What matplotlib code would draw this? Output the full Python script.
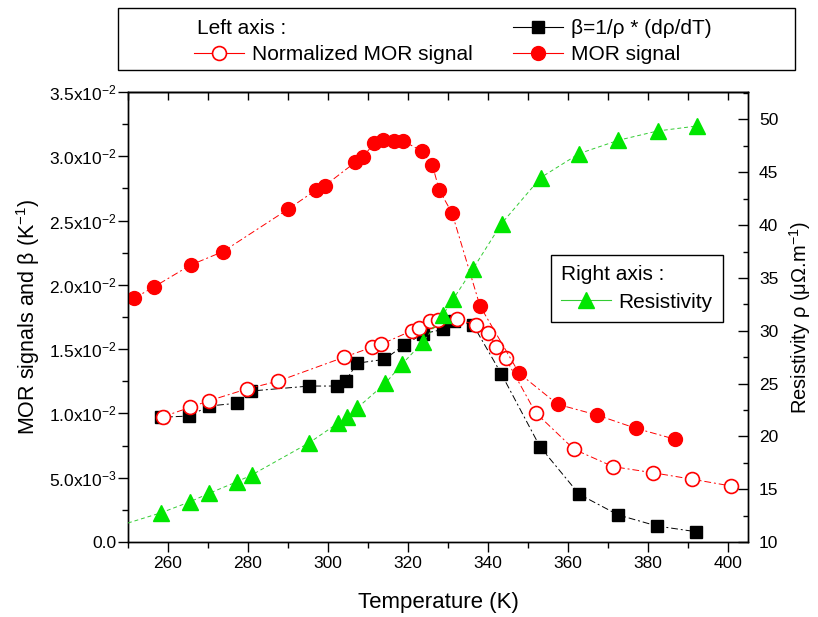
import matplotlib
matplotlib.use("Agg")
import matplotlib.pyplot as plt
from matplotlib.lines import Line2D
from matplotlib.patches import Rectangle
from matplotlib.ticker import MultipleLocator, FixedLocator, FixedFormatter

plt.rcParams.update({
    "font.family": ["Liberation Sans", "DejaVu Sans"],
    "mathtext.fontset": "custom",
    "mathtext.rm": "Liberation Sans",
    "mathtext.it": "Liberation Sans:italic",
    "mathtext.bf": "Liberation Sans:bold",
    "axes.linewidth": 1.0,
})

# --- dane ---
# MOR signal (pełne czerwone kółka), lewa oś
T_mor = [251.5, 256.6, 265.7, 273.7, 290.1, 297.0, 299.2, 306.8, 308.8, 311.5,
         313.7, 316.5, 318.7, 323.4, 326.1, 327.8, 331.0, 338.0, 347.8, 357.4,
         367.2, 377.0, 386.8]
mor = [0.01895, 0.01986, 0.02155, 0.02258, 0.02590, 0.02738, 0.02771, 0.02953,
       0.02997, 0.03101, 0.03127, 0.03121, 0.03121, 0.03041, 0.02932, 0.02738,
       0.02559, 0.01836, 0.01312, 0.01071, 0.00988, 0.00884, 0.00799]

# Normalized MOR signal (puste kółka), lewa oś
T_norm = [258.8, 265.5, 270.3, 279.7, 287.6, 304.0, 310.9, 313.3, 320.9, 322.8,
          325.5, 327.6, 332.3, 337.0, 340.1, 342.1, 344.4, 351.9, 361.5, 371.3,
          381.2, 391.1, 400.7]
norm = [0.00975, 0.01047, 0.01099, 0.01190, 0.01252, 0.01437, 0.01514, 0.01538,
        0.01643, 0.01662, 0.01721, 0.01727, 0.01732, 0.01688, 0.01628, 0.01519,
        0.01429, 0.01006, 0.00721, 0.00586, 0.00539, 0.00488, 0.00436]

# beta = 1/rho * drho/dT (czarne kwadraty), lewa oś
T_beta = [258.3, 265.3, 270.3, 277.2, 280.7, 295.3, 302.3, 304.5, 307.2, 314.1,
          319.0, 323.8, 328.8, 331.5, 336.3, 343.3, 353.0, 362.8, 372.6, 382.3,
          392.0]
beta = [0.00970, 0.00980, 0.01058, 0.01079, 0.01174, 0.01213, 0.01213, 0.01255,
        0.01390, 0.01421, 0.01530, 0.01620, 0.01654, 0.01720, 0.01688, 0.01310,
        0.00741, 0.00371, 0.00210, 0.00124, 0.00080]

# Resistivity (zielone trójkąty), prawa oś; pierwszy punkt to początek linii bez znacznika
T_rho = [250.0, 258.3, 265.5, 270.3, 277.2, 280.9, 295.3, 302.4, 304.7, 307.2,
         314.3, 318.5, 323.8, 328.7, 331.3, 336.3, 343.4, 353.2, 362.8, 372.6,
         382.4, 392.2]
rho = [11.8, 12.77, 13.81, 14.61, 15.70, 16.34, 19.39, 21.23, 21.80, 22.65,
       25.01, 26.84, 28.95, 31.48, 32.99, 35.89, 40.15, 44.50, 46.77, 48.03,
       48.91, 49.38]

x_ticks = [260, 280, 300, 320, 340, 360, 380, 400]
y_ticks = [0.0, 0.005, 0.010, 0.015, 0.020, 0.025, 0.030, 0.035]
y_ticklabels = ["0.0", r"5.0x10$^{-3}$", r"1.0x10$^{-2}$", r"1.5x10$^{-2}$",
                r"2.0x10$^{-2}$", r"2.5x10$^{-2}$", r"3.0x10$^{-2}$", r"3.5x10$^{-2}$"]
rho_ticks = [10, 15, 20, 25, 30, 35, 40, 45, 50]

RED = "#ff0000"
GREEN = "#00e600"
dashdot = (0, (7, 3, 2, 3))

fig = plt.figure(figsize=(8.18, 6.17), dpi=100)
ax = fig.add_axes([128 / 818, 1 - 542 / 617, 620 / 818, 450 / 617])

ax.plot(T_beta, beta, color="black", lw=0.7, ls=dashdot, marker="s", ms=9,
        mfc="black", mec="black", zorder=3)
ax.plot(T_norm, norm, color=RED, lw=0.7, ls=dashdot, marker="o", ms=10,
        mfc="white", mec=RED, mew=1.2, zorder=4)
ax.plot(T_mor, mor, color=RED, lw=0.7, ls=dashdot, marker="o", ms=10,
        mfc=RED, mec=RED, zorder=5)

ax.set_xlim(250, 405)
ax.set_ylim(0, 0.035)
ax.xaxis.set_major_locator(FixedLocator(x_ticks))
ax.xaxis.set_minor_locator(MultipleLocator(10))
ax.yaxis.set_major_locator(FixedLocator(y_ticks))
ax.yaxis.set_major_formatter(FixedFormatter(y_ticklabels))
ax.yaxis.set_minor_locator(MultipleLocator(0.0025))
ax.tick_params(axis="both", which="major", direction="out", length=7, width=1,
               labelsize=12.5, top=False, right=False)
ax.tick_params(axis="both", which="minor", direction="out", length=4, width=1,
               top=False, right=False)
ax.tick_params(axis="y", which="major", pad=1)
ax.tick_params(axis="x", which="major", pad=3)

top = ax.secondary_xaxis("top")
top.xaxis.set_major_locator(FixedLocator(x_ticks))
top.xaxis.set_minor_locator(MultipleLocator(10))
top.tick_params(which="major", direction="in", length=6, width=1, labeltop=False)
top.tick_params(which="minor", direction="in", length=6, width=1)

ax.set_xlabel("Temperature (K)", fontsize=16, labelpad=15)
ax.set_ylabel(r"MOR signals and β (K$^{-1}$)", fontsize=15.5, labelpad=5)

ax2 = ax.twinx()
ax2.plot(T_rho, rho, color="#33cc33", lw=0.7, ls=(0, (4, 3)), marker="^", ms=11,
         mfc=GREEN, mec=GREEN, markevery=list(range(1, len(T_rho))), zorder=6)
ax2.set_ylim(10, 52.6)
ax2.yaxis.set_major_locator(FixedLocator(rho_ticks))
ax2.yaxis.set_minor_locator(MultipleLocator(2.5))
ax2.tick_params(axis="y", which="major", direction="in", length=7, width=1,
                labelsize=12.5, pad=8)
ax2.tick_params(axis="y", which="minor", direction="in", length=3.5, width=1)
ax2.set_ylabel(r"Resistivity ρ (μΩ.m$^{-1}$)", fontsize=14.5, labelpad=6)

# legenda lewej osi (ramka u góry)
fig.patches.append(Rectangle((118 / 818, 1 - 70 / 617), 677 / 818, 62 / 617,
                             transform=fig.transFigure, fill=False,
                             edgecolor="black", lw=1.0))
fig.text(197 / 818, 1 - 28 / 617, "Left axis :", fontsize=15, va="center")
h_blank = Line2D([], [], ls="none", marker="none")
h_norm = Line2D([], [], color=RED, lw=0.8, marker="o", ms=10, mfc="white",
                mec=RED, mew=1.2)
h_beta = Line2D([], [], color="black", lw=0.8, marker="s", ms=9, mfc="black")
h_mor = Line2D([], [], color=RED, lw=0.8, marker="o", ms=10, mfc=RED, mec=RED)
fig.legend(handles=[h_blank, h_norm, h_beta, h_mor],
           labels=["", "Normalized MOR signal", "β=1/ρ * (dρ/dT)", "MOR signal"],
           ncol=2, loc="upper left", bbox_to_anchor=(194 / 818, 1 - 19 / 617),
           frameon=False, fontsize=15, handlelength=2.4, handletextpad=0.4,
           columnspacing=1.9, labelspacing=0.35, borderpad=0, borderaxespad=0)

# legenda prawej osi
h_rho = Line2D([], [], color="#33cc33", lw=0.8, marker="^", ms=11, mfc=GREEN,
               mec=GREEN)
leg2 = ax2.legend(handles=[h_rho], labels=["Resistivity"], title="Right axis :",
                  alignment="left", loc="upper left",
                  bbox_to_anchor=(551 / 818, 1 - 255 / 617),
                  bbox_transform=fig.transFigure, fontsize=15, title_fontsize=15,
                  fancybox=False, edgecolor="black", framealpha=1,
                  handlelength=2.4, handletextpad=0.35, borderaxespad=0,
                  borderpad=0.5, labelspacing=0.4)
leg2.get_frame().set_linewidth(1.0)

fig.savefig("out.png", dpi=100)
